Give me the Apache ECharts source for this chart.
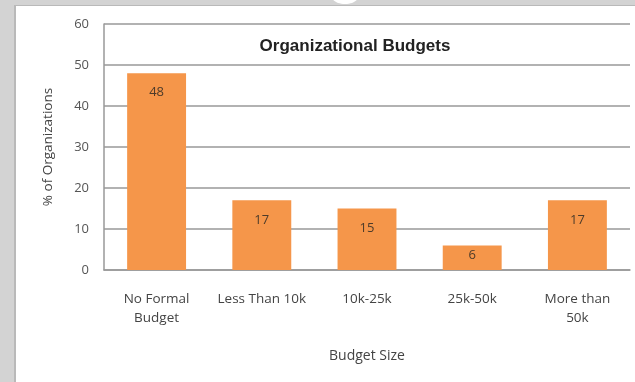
<!DOCTYPE html>
<html>
<head>
<meta charset="utf-8">
<script src="https://cdn.jsdelivr.net/npm/echarts@6/dist/echarts.min.js"></script>
<style>
html,body{margin:0;padding:0;background:#d3d3d3;}
#c{width:635px;height:382px;}
</style>
</head>
<body>
<div id="c"></div>
<script>
const categories = ['No Formal\nBudget', 'Less Than 10k', '10k-25k', '25k-50k', 'More than\n50k'];
const values = [48, 17, 15, 6, 17];
const yTicks = { min: 0, max: 60, interval: 10 };

const FONT = 'Open Sans, sans-serif';
const chart = echarts.init(document.getElementById('c'), null, { renderer: 'canvas' });
chart.setOption({
  backgroundColor: '#d3d3d3',
  animation: false,
  graphic: [
    { type: 'rect', z: -10, shape: { x: 14, y: 5, width: 640, height: 400 }, style: { fill: '#b9b9b9' } },
    { type: 'rect', z: -9, shape: { x: 16, y: 6, width: 640, height: 400 }, style: { fill: '#ffffff' } },
    { type: 'ellipse', z: -8, shape: { cx: 345, cy: -3, rx: 13, ry: 7 }, style: { fill: '#ffffff' } }
  ],
  title: {
    text: 'Organizational Budgets',
    left: 350, top: 33, textAlign: 'center',
    textStyle: { fontFamily: 'Liberation Sans, Arial, sans-serif', fontWeight: 'bold', fontSize: 17, color: '#222' }
  },
  grid: { left: 104, right: 5, top: 24, bottom: 112 },
  xAxis: {
    type: 'category',
    data: categories,
    name: 'Budget Size',
    nameLocation: 'middle',
    nameGap: 79,
    nameTextStyle: { fontFamily: FONT, fontSize: 14, color: '#444' },
    axisLine: { show: true, lineStyle: { color: '#999', width: 1.5 } },
    axisTick: { show: false },
    axisLabel: { margin: 20, fontFamily: FONT, fontSize: 13.5, color: '#444', lineHeight: 19, interval: 0 }
  },
  yAxis: {
    type: 'value',
    min: yTicks.min, max: yTicks.max, interval: yTicks.interval,
    name: '% of Organizations',
    nameLocation: 'middle',
    nameGap: 49,
    nameTextStyle: { fontFamily: FONT, fontSize: 13.5, color: '#444' },
    axisLine: { show: true, lineStyle: { color: '#999', width: 1.5 } },
    axisTick: { show: false },
    axisLabel: { margin: 15, fontFamily: FONT, fontSize: 13, color: '#555' },
    splitLine: { show: true, lineStyle: { color: '#999', width: 1.5 } }
  },
  series: [{
    type: 'bar',
    data: values.map(v => v < 10 ? { value: v, label: { distance: 3 } } : v),
    barWidth: '56%',
    itemStyle: { color: '#f5964a' },
    label: {
      show: true, position: 'insideTop', distance: 13,
      fontFamily: FONT, fontSize: 13, color: '#4d3b2a'
    }
  }]
});
</script>
</body>
</html>
